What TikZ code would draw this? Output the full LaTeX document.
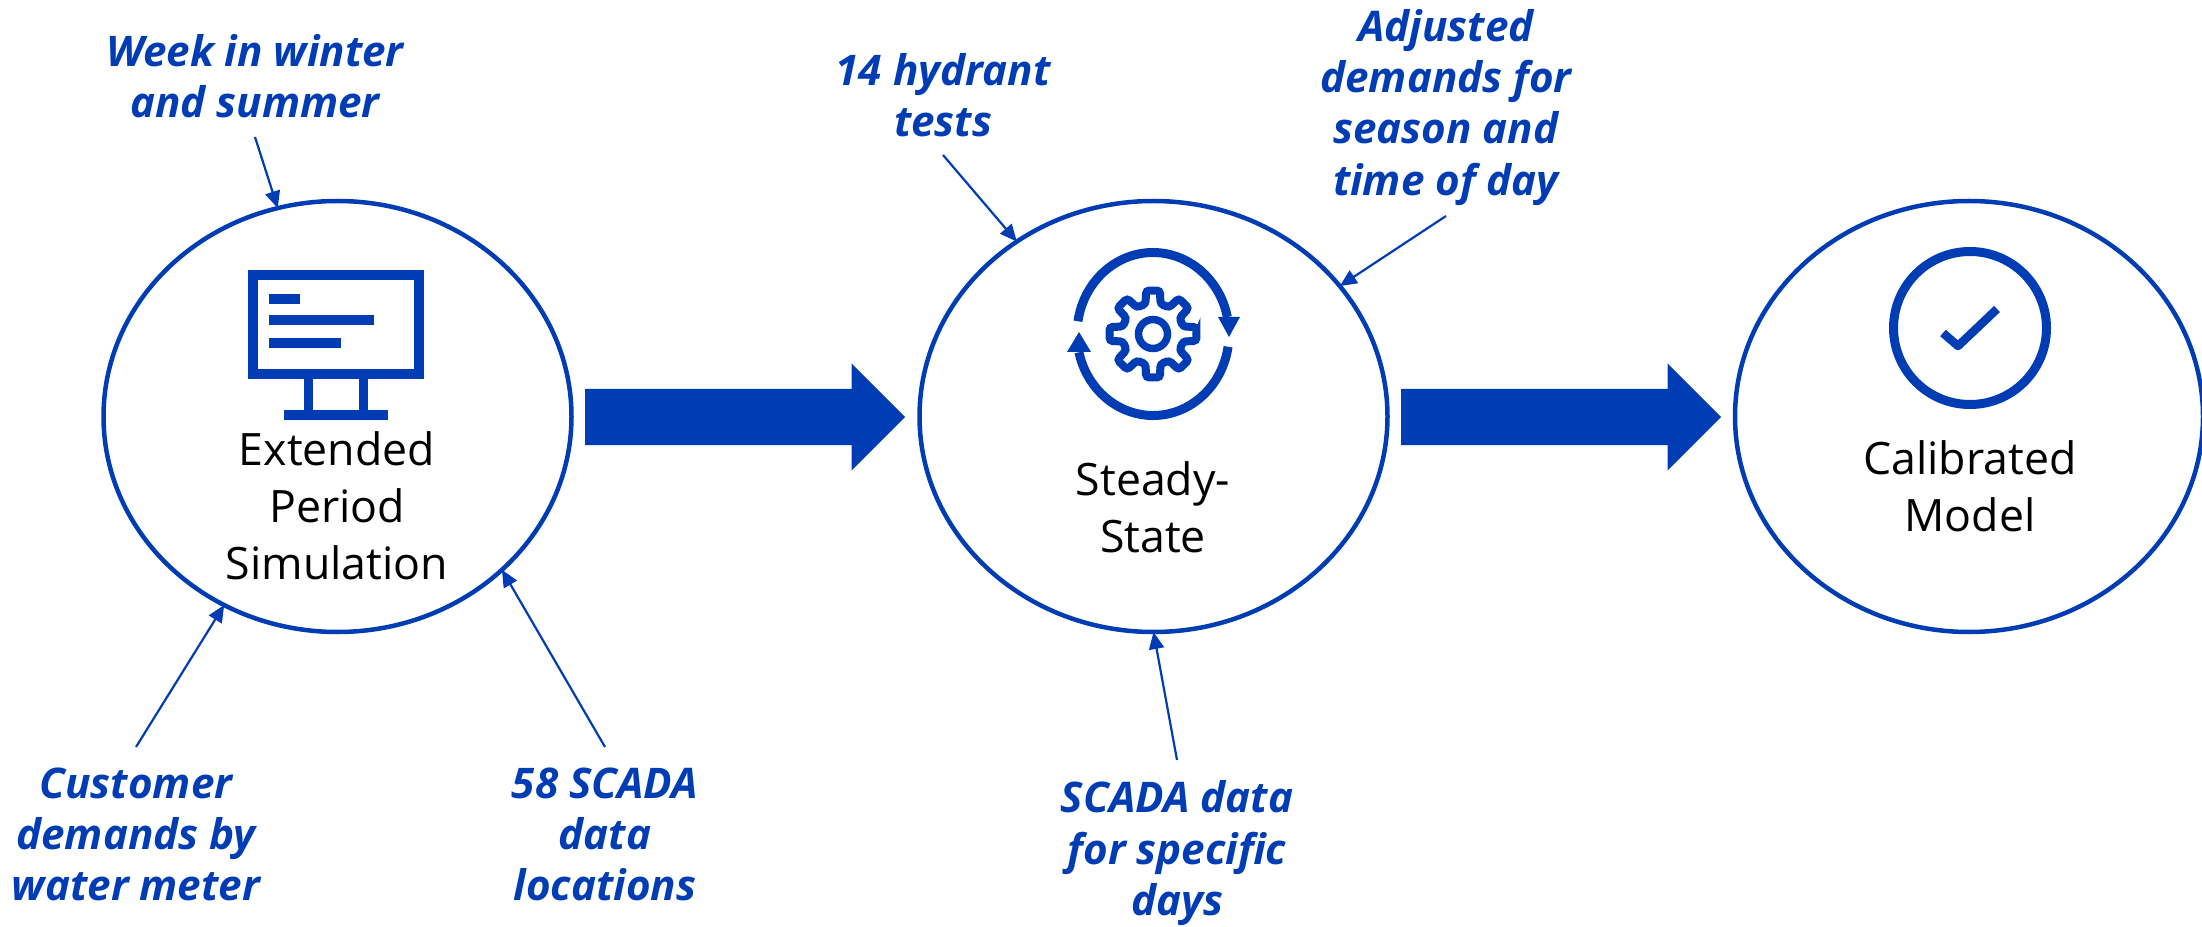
\documentclass[tikz,border=0pt]{standalone}
\usepackage{fontspec}
\setmainfont{Open Sans}
\usetikzlibrary{arrows.meta,shapes.geometric,shapes.arrows}
\definecolor{flowblue}{HTML}{003CB4}
\tikzset{
  stage/.style={draw=flowblue,ellipse,line width=.045cm,minimum width=4.68cm,minimum height=4.31cm,inner sep=0pt,outer sep=0pt},
  stagetext/.style={align=center,text=black,font=\fontsize{12.7}{16.2}\selectfont},
  datatext/.style={align=center,text=flowblue,inner sep=0pt,font=\fontsize{12}{14.6}\selectfont\bfseries\itshape},
  feed/.style={draw=flowblue,line width=.022cm,-{Triangle[length=.17cm,width=.15cm]}},
  bigarrow/.style={fill=flowblue,single arrow,single arrow tip angle=90,single arrow head indent=0pt,minimum width=1.07cm,minimum height=3.2cm,inner xsep=0pt,inner ysep=.27cm,outer sep=0pt,anchor=tip},
  iconline/.style={draw=flowblue,line width=.09cm}
}
\begin{document}
\begin{tikzpicture}
\useasboundingbox (0,0) rectangle (22.02,9.26);
% stages
\node [stage] (sim) at (3.375,5.095) {};
\node [stage] (steady) at (11.535,5.095) {};
\node [stage] (calib) at (19.69,5.095) {};
\node [stagetext] (simtext) at (3.37,4.20) {Extended\\Period\\Simulation};
\node [stagetext] (steadytext) at (11.53,4.185) {Steady-\\State};
\node [stagetext] (calibtext) at (19.70,4.395) {Calibrated\\Model};
% big arrows
\node [bigarrow] (simtosteady) at (9.05,5.09) {};
\node [bigarrow] (steadytocalib) at (17.21,5.09) {};
% monitor
\draw [iconline,line width=.095cm] (2.53,6.51) rectangle (4.19,5.52);
\fill [flowblue] (2.69,6.32) rectangle (3.00,6.22);
\fill [flowblue] (2.69,6.11) rectangle (3.74,6.01);
\fill [flowblue] (2.69,5.88) rectangle (3.41,5.78);
\fill [flowblue] (3.04,5.47) rectangle (3.13,5.16);
\fill [flowblue] (3.59,5.47) rectangle (3.68,5.16);
\fill [flowblue] (2.84,5.16) rectangle (3.88,5.06);
% gear and turning arrows
\begin{scope}[shift={(11.53,5.92)}]
\draw [iconline,line width=.08cm,rounded corners=.03cm] (-9:.44)
  \foreach \a in {0,45,...,315} { -- (\a-9:.44) -- (\a+9:.44) -- (\a+14:.31) -- (\a+31:.31) } -- cycle;
\draw [iconline,line width=.075cm] (0,0) circle (.145);
\draw [iconline] (171:.76 and .815) arc [start angle=171,end angle=12,x radius=.76,y radius=.815];
\fill [flowblue] (.65,.17) -- (.87,.17) -- (.76,-.03) -- cycle;
\draw [iconline] (-9:.76 and .815) arc [start angle=-9,end angle=-167,x radius=.76,y radius=.815];
\fill [flowblue] (-.86,-.18) -- (-.62,-.18) -- (-.74,.02) -- cycle;
\end{scope}
% check mark
\draw [iconline] (19.70,5.98) circle (.765);
\draw [iconline,line width=.085cm,line join=round] (19.43,5.93) -- (19.58,5.80) -- (19.97,6.17);
% data labels
\node [datatext,anchor=south,inner ysep=.18cm] (week) at (2.55,7.89) {Week in winter\\and summer};
\node [datatext,anchor=north,inner ysep=.20cm] (customer) at (1.36,1.79) {Customer\\demands by\\water meter};
\node [datatext,anchor=north,inner ysep=.20cm] (locations) at (6.05,1.79) {58 SCADA\\data\\locations};
\node [datatext,anchor=south,inner ysep=.17cm] (hydrant) at (9.43,7.71) {14 hydrant\\tests};
\node [datatext,anchor=south,inner ysep=.10cm] (adjusted) at (14.46,7.10) {Adjusted\\demands for\\season and\\time of day};
\node [datatext,anchor=north,inner ysep=.20cm] (days) at (11.77,1.66) {SCADA data\\for specific\\days};
% feeds
\draw [feed] (week.south) -- (sim.106.5);
\draw [feed] (customer.north) -- (sim.239);
\draw [feed] (locations.north) -- (sim.317.4);
\draw [feed] (hydrant.south) -- (steady.128);
\draw [feed] (adjusted.south) -- (steady.35.2);
\draw [feed] (days.north) -- (steady.270);
\end{tikzpicture}
\end{document}
